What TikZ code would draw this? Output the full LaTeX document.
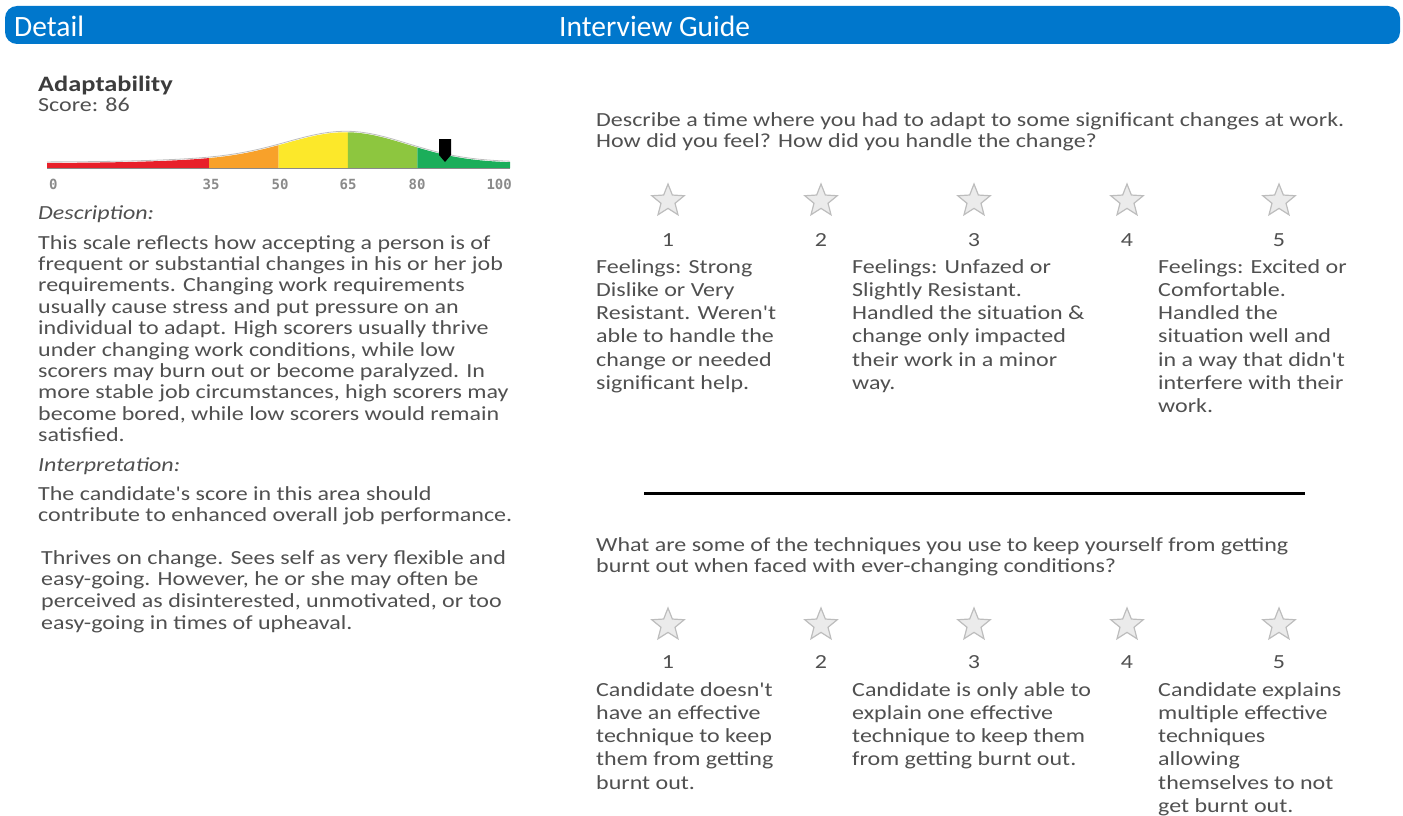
\documentclass[tikz,border=0pt]{standalone}
\usepackage{fontspec}
\setmainfont[FakeStretch=1.2,Ligatures=TeXOff]{Carlito}
\newfontfamily\headfont[Ligatures=TeXOff]{Carlito}
\newfontfamily\tickfont{DejaVu Sans Mono}
\usepackage{xcolor}
\usetikzlibrary{shapes.geometric}
\definecolor{FontColor}{HTML}{505050}
\definecolor{TitleColor}{HTML}{3C3C3C}
\definecolor{HeadBlue}{HTML}{0077CC}
\definecolor{StarFill}{HTML}{EBEBEB}
\definecolor{StarLine}{HTML}{BDBDBD}
\definecolor{TickColor}{HTML}{8A8A8A}
\definecolor{ScaleRed}{HTML}{E8202A}
\definecolor{ScaleOrange}{HTML}{F8A12A}
\definecolor{ScaleYellow}{HTML}{FCE82A}
\definecolor{ScaleLime}{HTML}{8DC63F}
\definecolor{ScaleGreen}{HTML}{1BAE5A}
\newcommand\txthead{Detail}
\newcommand\txtguide{Interview Guide}
\newcommand\txttrait{Adaptability}
\newcommand\txtscore{Score: 86}
\newcommand\txtdesclabel{Description:}
\newcommand\txtdesc{This scale reflects how accepting a person is of\\frequent or substantial changes in his or her job\\requirements. Changing work requirements\\usually cause stress and put pressure on an\\individual to adapt. High scorers usually thrive\\under changing work conditions, while low\\scorers may burn out or become paralyzed. In\\more stable job circumstances, high scorers may\\become bored, while low scorers would remain\\satisfied.}
\newcommand\txtinterlabel{Interpretation:}
\newcommand\txtinter{The candidate's score in this area should\\contribute to enhanced overall job performance.}
\newcommand\txtprofile{Thrives on change. Sees self as very flexible and\\easy-going. However, he or she may often be\\perceived as disinterested, unmotivated, or too\\easy-going in times of upheaval.}
\newcommand\txtqone{Describe a time where you had to adapt to some significant changes at work.\\How did you feel? How did you handle the change?}
\newcommand\txtqonelow{Feelings: Strong\\Dislike or Very\\Resistant. Weren't\\able to handle the\\change or needed\\significant help.}
\newcommand\txtqonemid{Feelings: Unfazed or\\Slightly Resistant.\\Handled the situation \&\\change only impacted\\their work in a minor\\way.}
\newcommand\txtqonehigh{Feelings: Excited or\\Comfortable.\\Handled the\\situation well and\\in a way that didn't\\interfere with their\\work.}
\newcommand\txtqtwo{What are some of the techniques you use to keep yourself from getting\\burnt out when faced with ever-changing conditions?}
\newcommand\txtqtwolow{Candidate doesn't\\have an effective\\technique to keep\\them from getting\\burnt out.}
\newcommand\txtqtwomid{Candidate is only able to\\explain one effective\\technique to keep them\\from getting burnt out.}
\newcommand\txtqtwohigh{Candidate explains\\multiple effective\\techniques\\allowing\\themselves to not\\get burnt out.}
\tikzstyle{txt} = [inner sep=0pt, anchor=base west, align=left, text=FontColor, font=\fontsize{20}{21.4}\selectfont]
\tikzstyle{opt} = [txt, font=\fontsize{20}{23.3}\selectfont]
\tikzstyle{lbl} = [txt, font=\fontsize{20}{21.4}\selectfont\itshape]
\tikzstyle{headtxt} = [inner sep=0pt, anchor=base west, text=white, font=\headfont\fontsize{29.5}{32}\selectfont]
\tikzstyle{headbar} = [rectangle, rounded corners=12pt, fill=HeadBlue, minimum width=1395pt, minimum height=38pt, inner sep=0pt]
\tikzstyle{rate} = [star, star points=5, star point ratio=2.3, minimum size=34pt, inner sep=0pt, fill=StarFill, draw=StarLine, line width=1.2pt]
\tikzstyle{num} = [inner sep=0pt, anchor=base, text=FontColor, font=\fontsize{20}{24}\selectfont]
\tikzstyle{tick} = [inner sep=0pt, anchor=base, text=TickColor, font=\tickfont\bfseries\fontsize{14}{16}\selectfont]
\tikzset{declare function={bell(\v)=5+30*exp(-((\v-65)^2)/338)+3*exp(-((\v-40)^2)/450);}}

\begin{document}
\begin{tikzpicture}[x=1pt, y=-1pt]
\useasboundingbox (0,0) rectangle (1403,816);
\node[headbar] (bar) at (702.5, 25) {};
\node[headtxt] (detail) at (14, 37) {\txthead};
\node[headtxt] (guide) at (559, 37) {\txtguide};
\node[txt, text=TitleColor, font=\fontsize{22}{24}\selectfont\bfseries] (trait) at (38, 92) {\txttrait};
\node[txt] (score) at (38, 111) {\txtscore};
\fill[ScaleRed] (47,168) -- plot[domain=0:35, samples=15] ({47+4.63*\x},{168-bell(\x)}) -- (209.05,168) -- cycle;
\fill[ScaleOrange] (209.05,168) -- plot[domain=35:50, samples=10] ({47+4.63*\x},{168-bell(\x)}) -- (278.5,168) -- cycle;
\fill[ScaleYellow] (278.5,168) -- plot[domain=50:65, samples=12] ({47+4.63*\x},{168-bell(\x)}) -- (347.95,168) -- cycle;
\fill[ScaleLime] (347.95,168) -- plot[domain=65:80, samples=12] ({47+4.63*\x},{168-bell(\x)}) -- (417.4,168) -- cycle;
\fill[ScaleGreen] (417.4,168) -- plot[domain=80:100, samples=15] ({47+4.63*\x},{168-bell(\x)}) -- (510,168) -- cycle;
\draw[StarLine, line width=0.8pt] plot[domain=0:100, samples=60] ({47+4.63*\x},{167-bell(\x)});
\draw[TickColor, line width=1.5pt] (47,168.5) -- (510,168.5);
\coordinate (mark) at (445, 162);
\fill[black] (mark) -- ++(-6,-7) -- ++(0,-16) -- ++(12,0) -- ++(0,16) -- cycle;
\node[tick, anchor=base west] (t0) at (49, 189) {0};
\node[tick] (t35) at (211, 189) {35};
\node[tick] (t50) at (280, 189) {50};
\node[tick] (t65) at (348, 189) {65};
\node[tick] (t80) at (417, 189) {80};
\node[tick, anchor=base east] (t100) at (512, 189) {100};
\node[lbl] (desclabel) at (38, 219) {\txtdesclabel};
\node[txt] (desc) at (38, 441.6) {\txtdesc};
\node[lbl] (interlabel) at (38, 471) {\txtinterlabel};
\node[txt] (inter) at (38, 521.4) {\txtinter};
\node[txt, font=\fontsize{20}{21.7}\selectfont] (profile) at (41, 629.1) {\txtprofile};
\node[txt] (qone) at (596, 147.4) {\txtqone};
\node[rate] (sa1) at (668, 201) {};
\node[rate] (sa2) at (821, 201) {};
\node[rate] (sa3) at (974, 201) {};
\node[rate] (sa4) at (1127, 201) {};
\node[rate] (sa5) at (1279, 201) {};
\node[num] (na1) at (668, 246) {1};
\node[num] (na2) at (821, 246) {2};
\node[num] (na3) at (974, 246) {3};
\node[num] (na4) at (1127, 246) {4};
\node[num] (na5) at (1279, 246) {5};
\node[opt] (qonelow) at (596, 389.5) {\txtqonelow};
\node[opt] (qonemid) at (852, 389.5) {\txtqonemid};
\node[opt] (qonehigh) at (1158, 412.8) {\txtqonehigh};
\coordinate (ruleleft) at (644, 493);
\coordinate (ruleright) at (1305, 493);
\draw[black, line width=3pt] (ruleleft) -- (ruleright);
\node[txt] (qtwo) at (596, 572.4) {\txtqtwo};
\node[rate] (sb1) at (668, 625) {};
\node[rate] (sb2) at (821, 625) {};
\node[rate] (sb3) at (974, 625) {};
\node[rate] (sb4) at (1127, 625) {};
\node[rate] (sb5) at (1279, 625) {};
\node[num] (nb1) at (668, 668) {1};
\node[num] (nb2) at (821, 668) {2};
\node[num] (nb3) at (974, 668) {3};
\node[num] (nb4) at (1127, 668) {4};
\node[num] (nb5) at (1279, 668) {5};
\node[opt] (qtwolow) at (596, 789.2) {\txtqtwolow};
\node[opt] (qtwomid) at (852, 765.9) {\txtqtwomid};
\node[opt] (qtwohigh) at (1158, 812.5) {\txtqtwohigh};
\end{tikzpicture}
\end{document}
